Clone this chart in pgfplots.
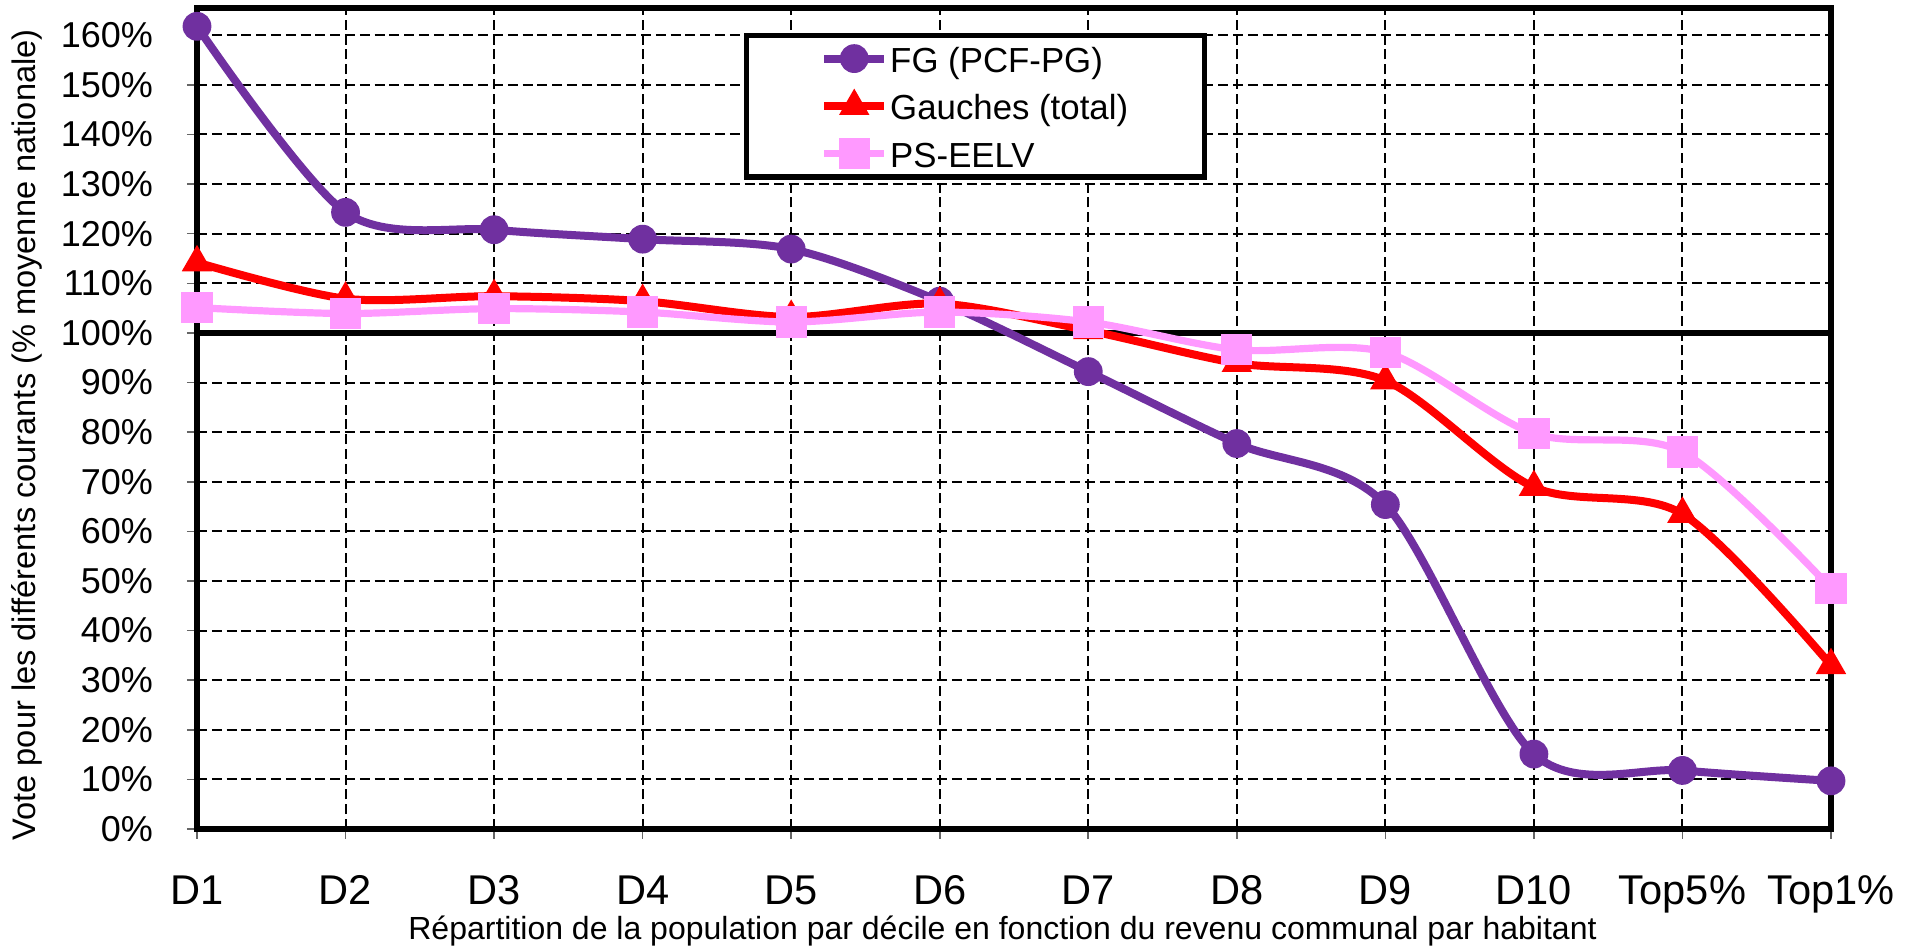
\documentclass[border=0pt]{standalone}
\usepackage{fontspec}
\setmainfont{Liberation Sans}
\usepackage{pgfplots}
\pgfplotsset{compat=1.18}
\definecolor{fgc}{HTML}{7030A0}
\definecolor{gc}{HTML}{FF0000}
\definecolor{psc}{HTML}{FF99FF}
\begin{document}
\begin{tikzpicture}
\path[use as bounding box] (-49.25pt,-30pt) rectangle (430.25pt,207.25pt);
\begin{axis}[
  at={(0,0)}, anchor=south west,
  scale only axis, width=408.5pt, height=205.25pt,
  xmin=0, xmax=11, ymin=0, ymax=165.5,
  clip=false,
  xtick={0,...,11},
  xticklabels={D1,D2,D3,D4,D5,D6,D7,D8,D9,D10,Top5\%,Top1\%},
  ytick={0,10,...,160},
  yticklabel={\pgfmathprintnumber{\tick}\%},
  /pgf/number format/assume math mode=true,
  xtick pos=bottom, ytick pos=left,
  tick align=outside,
  major tick length=2.5pt,
  tick style={black!60, line width=0.4pt},
  grid=major,
  major grid style={black, line width=0.5pt, dash pattern=on 2.5pt off 1.2pt},
  axis line style={black, line width=1.4pt},
  extra y ticks={100},
  extra y tick labels={},
  extra y tick style={grid=major, major grid style={black, solid, line width=1.5pt}, major tick length=0pt},
  xticklabel style={font=\fontsize{10.4}{12}\selectfont, anchor=base, inner sep=0pt, yshift=-16.5pt},
  yticklabel style={font=\fontsize{9}{11}\selectfont, anchor=east, inner sep=0pt, xshift=-8.3pt},
  xlabel={Répartition de la population par décile en fonction du revenu communal par habitant},
  xlabel style={font=\fontsize{8}{10}\selectfont, at={(axis description cs:0.493,0)}, anchor=base, inner sep=0pt, yshift=-27.7pt},
  ylabel={Vote pour les différents courants (\% moyenne nationale)},
  ylabel style={font=\fontsize{8.15}{10}\selectfont, at={(axis description cs:-0.104,0.48)}, anchor=center, rotate=0},
  legend style={at={(axis cs:3.68,160.5)}, anchor=north west, draw=black, line width=1.3pt,
    font=\fontsize{8.7}{10}\selectfont, inner xsep=18.5pt, inner ysep=0.5pt,
    row sep=1.3pt,
    nodes={text height=8.2pt, text depth=1.4pt, inner ysep=0.5pt, inner xsep=0.5pt, anchor=west}},
  legend cell align=left,
  legend image code/.code={
    \draw[#1, mark repeat=2, mark phase=2] plot coordinates {(0pt,0pt) (7.5pt,0pt) (15pt,0pt)};
  },
]
\addplot[fgc, line width=2pt, smooth, tension=0.5, mark=*, mark size=3.4pt, mark options={solid, fill=fgc, line width=0.4pt}]
  coordinates {(0,161.8) (1,124.3) (2,120.8) (3,118.9) (4,116.9) (5,106.4) (6,92.2) (7,77.7) (8,65.4) (9,15.1) (10,11.8) (11,9.7)};
\addlegendentry{FG (PCF-PG)}
\addplot[gc, line width=2pt, smooth, tension=0.5, mark=triangle*, mark size=4pt, mark options={solid, fill=gc, line width=0.4pt}]
  coordinates {(0,114.2) (1,106.9) (2,107.4) (3,106.4) (4,103.2) (5,105.9) (6,100.5) (7,93.9) (8,90.4) (9,68.9) (10,63.5) (11,33.0)};
\addlegendentry{Gauches (total)}
\addplot[psc, line width=1.8pt, smooth, tension=0.5, mark=square*, mark size=3.7pt, mark options={solid, fill=psc, line width=0.4pt}]
  coordinates {(0,105.1) (1,103.9) (2,104.9) (3,104.2) (4,102.2) (5,104.2) (6,102.2) (7,96.6) (8,96.1) (9,79.7) (10,76.0) (11,48.5)};
\addlegendentry{PS-EELV}
\end{axis}
\end{tikzpicture}
\end{document}
